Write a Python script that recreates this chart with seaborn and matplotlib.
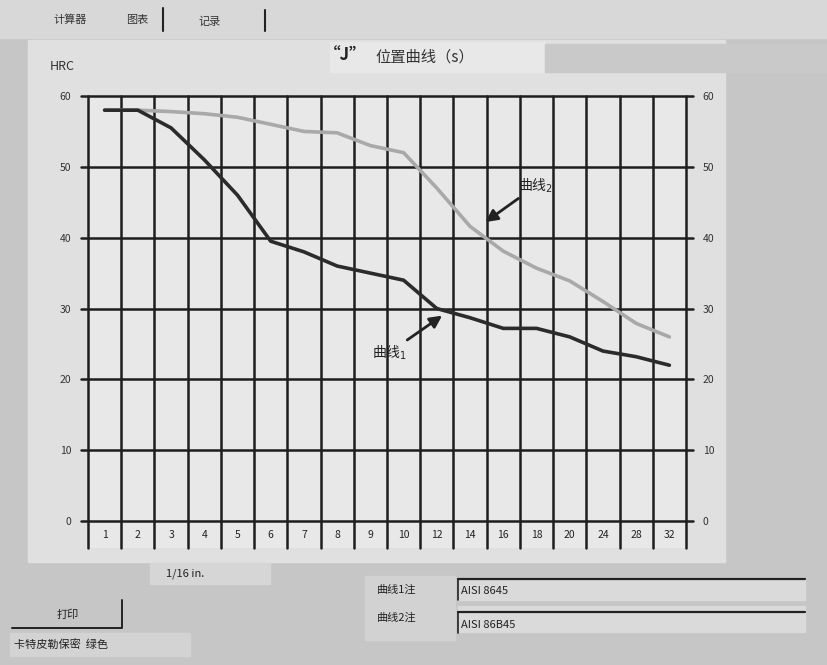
"""
Jominy "J" position hardness curves (HRC vs distance, 1/16 in.)
"""

import matplotlib
matplotlib.use("Agg")
import matplotlib.pyplot as plt
from matplotlib.patches import Rectangle
from matplotlib.lines import Line2D
import pandas as pd
import seaborn as sns

# distance from quenched end, 1/16 in.
distances = ["1", "2", "3", "4", "5", "6", "7", "8", "9", "10",
             "12", "14", "16", "18", "20", "24", "28", "32"]
curve1_hrc = [58, 58, 55.5, 51, 46, 39.5, 38, 36, 35, 34,
              30, 28.7, 27.2, 27.2, 26, 24, 23.2, 22]
curve2_hrc = [58, 58, 57.8, 57.5, 57, 56, 55, 54.8, 53, 52,
              47, 41.6, 38.1, 35.7, 33.9, 31, 27.9, 26]
hrc_ticks = [0, 10, 20, 30, 40, 50, 60]
curve1_note = "AISI 8645"
curve2_note = "AISI 86B45"

W, H = 828, 665


def px(x, y):
    return x / W, 1 - y / H


def fig_rect(fig, x0, y0, x1, y1, color):
    fig.patches.append(Rectangle(px(x0, y1), (x1 - x0) / W, (y1 - y0) / H,
                                 transform=fig.transFigure, color=color,
                                 zorder=-5))


def fig_line(fig, xs, ys, lw=1.5, color="#222222"):
    fig.add_artist(Line2D([x / W for x in xs], [1 - y / H for y in ys],
                          transform=fig.transFigure, lw=lw, color=color))


sns.set_style("white")
plt.rcParams["font.family"] = ["Noto Sans CJK SC", "DejaVu Sans"]

df = pd.DataFrame({
    "pos": list(range(len(distances))) * 2,
    "hrc": curve1_hrc + curve2_hrc,
    "curve": ["曲线1"] * len(distances) + ["曲线2"] * len(distances),
})

fig = plt.figure(figsize=(W / 100, H / 100), dpi=100)
fig.patch.set_facecolor("#c6c6c6")

# screen panels
fig_rect(fig, 0, 0, 828, 38, "#d8d8d8")
fig_rect(fig, 28, 40, 725, 562, "#e0e0e0")
fig_rect(fig, 330, 42, 545, 72, "#e8e8e8")
fig_rect(fig, 545, 44, 828, 72, "#c9c9c9")
fig_rect(fig, 150, 563, 270, 584, "#d6d6d6")
fig_rect(fig, 365, 576, 455, 640, "#d2d2d2")
fig_rect(fig, 458, 578, 805, 600, "#dadada")
fig_rect(fig, 458, 606, 805, 632, "#dadada")
fig_rect(fig, 10, 633, 190, 656, "#d3d3d3")

ax = fig.add_axes([88 / W, 1 - 548 / H, 598 / W, 452 / H])
ax.set_zorder(2)
ax.set_facecolor("#e8e8e8")

sns.lineplot(data=df, x="pos", y="hrc", hue="curve",
             palette={"曲线1": "#2b2b2b", "曲线2": "#a9a9a9"},
             hue_order=["曲线2", "曲线1"], linewidth=2.6, legend=False,
             ax=ax, zorder=3)

n = len(distances)
ax.set_xlim(-0.5, n - 0.5)
ax.set_ylim(-3.8, 60)

# grid: cell boundaries and hardness levels
for b in range(n + 1):
    ax.axvline(b - 0.5, color="#1e1e1e", lw=1.8, zorder=2, clip_on=False)
for t in hrc_ticks:
    ax.plot([-0.7, n - 0.3], [t, t], color="#1e1e1e", lw=1.8, zorder=2,
            clip_on=False)

for s in ax.spines.values():
    s.set_visible(False)
ax.set_xticks([])
ax.set_yticks(hrc_ticks)
ax.tick_params(axis="y", length=0, pad=12, labelsize=7.5, labelcolor="#333333",
               left=True, right=True, labelleft=True, labelright=True)
ax.set_xlabel("")
ax.set_ylabel("")

for i, lab in enumerate(distances):
    ax.text(i, -1.9, lab, ha="center", va="center", fontsize=7.5,
            color="#222222")

ax.annotate("曲线$_2$", xy=(11.46, 42.2), xytext=(12.45, 46.0),
            fontsize=10, color="#222222", va="bottom", ha="left",
            arrowprops=dict(arrowstyle="-|>", color="#222222", lw=2,
                            mutation_scale=18, shrinkA=0, shrinkB=0))
ax.annotate("曲线$_1$", xy=(10.16, 29.0), xytext=(9.1, 25.1),
            fontsize=10, color="#222222", va="top", ha="right",
            arrowprops=dict(arrowstyle="-|>", color="#222222", lw=2,
                            mutation_scale=18, shrinkA=0, shrinkB=0))

# screen texts
fig.text(*px(70, 20), "计算器", fontsize=8, ha="center", va="center", color="#333333")
fig.text(*px(137, 20), "图表", fontsize=8, ha="center", va="center", color="#333333")
fig.text(*px(210, 22), "记录", fontsize=8, ha="center", va="center", color="#333333")
fig_line(fig, [163, 163], [8, 31])
fig_line(fig, [265, 265], [10, 31])

fig.text(*px(345, 55), "\u201cJ\u201d", fontsize=12, fontweight="bold",
         ha="center", va="center", color="#222222")
fig.text(*px(375, 57), "位置曲线（s）", fontsize=11, ha="left", va="center",
         color="#333333")
fig.text(*px(62, 67), "HRC", fontsize=9, ha="center", va="center", color="#333333")
fig.text(*px(185, 574), "1/16 in.", fontsize=8, ha="center", va="center", color="#222222")

fig.text(*px(397, 590), "曲线1注", fontsize=8, ha="center", va="center", color="#222222")
fig.text(*px(397, 618), "曲线2注", fontsize=8, ha="center", va="center", color="#222222")
fig.text(*px(461, 591), curve1_note, fontsize=8, ha="left", va="center", color="#222222")
fig.text(*px(461, 625), curve2_note, fontsize=8, ha="left", va="center", color="#222222")
fig_line(fig, [458, 805], [579, 579], lw=1.6)
fig_line(fig, [458, 458], [579, 600], lw=1.2)
fig_line(fig, [458, 805], [612, 612], lw=1.6)
fig_line(fig, [458, 458], [612, 633], lw=1.2)

fig.text(*px(68, 615), "打印", fontsize=8, ha="center", va="center", color="#222222")
fig_line(fig, [12, 122, 122], [628, 628, 600], lw=1.4)
fig.text(*px(14, 644), "卡特皮勒保密  绿色", fontsize=8, ha="left", va="center",
         color="#222222")

fig.savefig("out.png", dpi=100, facecolor=fig.get_facecolor())
plt.close(fig)
